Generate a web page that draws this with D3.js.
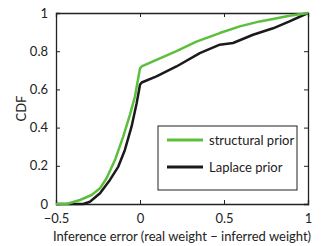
<!DOCTYPE html>
<html>
<head>
<meta charset="utf-8">
<script src="https://cdn.jsdelivr.net/npm/d3@7"></script>
<style>
  body { margin: 0; background: #fff; }
  text { font-family: Lato, "Open Sans", sans-serif; fill: #222; }
</style>
</head>
<body>
<div id="chart"></div>
<script>
// data
const structX = [-0.5, -0.437, -0.357, -0.288, -0.238, -0.199, -0.149, -0.1, -0.06, -0.03, 0.0, 0.01, 0.098, 0.217, 0.336, 0.475, 0.594, 0.713, 0.792, 0.89, 1.0];
const structY = [0, 0, 0.021, 0.047, 0.082, 0.135, 0.23, 0.353, 0.467, 0.563, 0.71, 0.72, 0.755, 0.80, 0.85, 0.895, 0.93, 0.956, 0.969, 0.986, 1.0];
const laplaceX = [-0.5, -0.337, -0.298, -0.238, -0.179, -0.129, -0.09, -0.05, -0.02, 0.0, 0.01, 0.098, 0.217, 0.356, 0.475, 0.554, 0.673, 0.792, 0.89, 1.0];
const laplaceY = [0, 0, 0.012, 0.056, 0.126, 0.196, 0.283, 0.406, 0.528, 0.624, 0.636, 0.668, 0.72, 0.79, 0.834, 0.843, 0.886, 0.92, 0.956, 1.0];
const xTicks = [-0.5, 0, 0.5, 1];
const yTicks = [0, 0.2, 0.4, 0.6, 0.8, 1];
const seriesNames = ["structural prior", "Laplace prior"];
const seriesColors = ["#5cbf3c", "#1a1a1a"];

const width = 325, height = 246;
const margin = { left: 56, right: 17, top: 13, bottom: 42 };

const svg = d3.select("#chart").append("svg")
  .attr("width", width)
  .attr("height", height);

const x = d3.scaleLinear().domain([-0.5, 1]).range([margin.left, width - margin.right]);
const y = d3.scaleLinear().domain([0, 1]).range([height - margin.bottom, margin.top]);

const fmt = d => d < 0 ? "\u2212" + Math.abs(d) : String(d);

// axes with inward ticks (matlab box style)
const tl = 4;
svg.append("g")
  .attr("transform", `translate(0,${y(0)})`)
  .call(d3.axisBottom(x).tickValues(xTicks).tickSize(-tl).tickPadding(10).tickFormat(fmt));
svg.append("g")
  .attr("transform", `translate(0,${y(1)})`)
  .call(d3.axisTop(x).tickValues(xTicks).tickSize(-tl).tickFormat(""));
svg.append("g")
  .attr("transform", `translate(${x(-0.5)},0)`)
  .call(d3.axisLeft(y).tickValues(yTicks).tickSize(-tl).tickPadding(8).tickFormat(fmt));
svg.append("g")
  .attr("transform", `translate(${x(1)},0)`)
  .call(d3.axisRight(y).tickValues(yTicks).tickSize(-tl).tickFormat(""));

svg.selectAll(".domain").attr("stroke", "#222").attr("stroke-width", 1.3);
svg.selectAll(".tick line").attr("stroke", "#222");
svg.selectAll(".tick text").attr("font-size", 13).attr("font-family", "Lato, sans-serif").attr("fill", "#222");

const line = d3.line().x(d => x(d[0])).y(d => y(d[1]));
const series = [
  d3.zip(structX, structY),
  d3.zip(laplaceX, laplaceY)
];
// draw laplace first, structural on top
[1, 0].forEach(i => {
  svg.append("path")
    .datum(series[i])
    .attr("d", line)
    .attr("fill", "none")
    .attr("stroke", seriesColors[i])
    .attr("stroke-width", 2.5)
    .attr("stroke-linejoin", "round");
});

// legend
const lg = svg.append("g").attr("transform", "translate(158,126)");
lg.append("rect")
  .attr("width", 139).attr("height", 64)
  .attr("fill", "#fff").attr("stroke", "#222").attr("stroke-width", 1);
seriesNames.forEach((name, i) => {
  const yy = 14 + i * 27;
  lg.append("line")
    .attr("x1", 9).attr("x2", 45).attr("y1", yy).attr("y2", yy)
    .attr("stroke", seriesColors[i]).attr("stroke-width", 2.8);
  lg.append("text")
    .attr("x", 51).attr("y", yy + 4.5)
    .attr("font-size", 13)
    .text(name);
});

// axis labels
svg.append("text")
  .attr("x", x(0.25))
  .attr("y", 241)
  .attr("text-anchor", "middle")
  .attr("font-size", 13)
  .text("Inference error (real weight \u2212 inferred weight)");
svg.append("text")
  .attr("transform", `translate(26,${y(0.5)}) rotate(-90)`)
  .attr("text-anchor", "middle")
  .attr("font-size", 13)
  .text("CDF");
</script>
</body>
</html>
